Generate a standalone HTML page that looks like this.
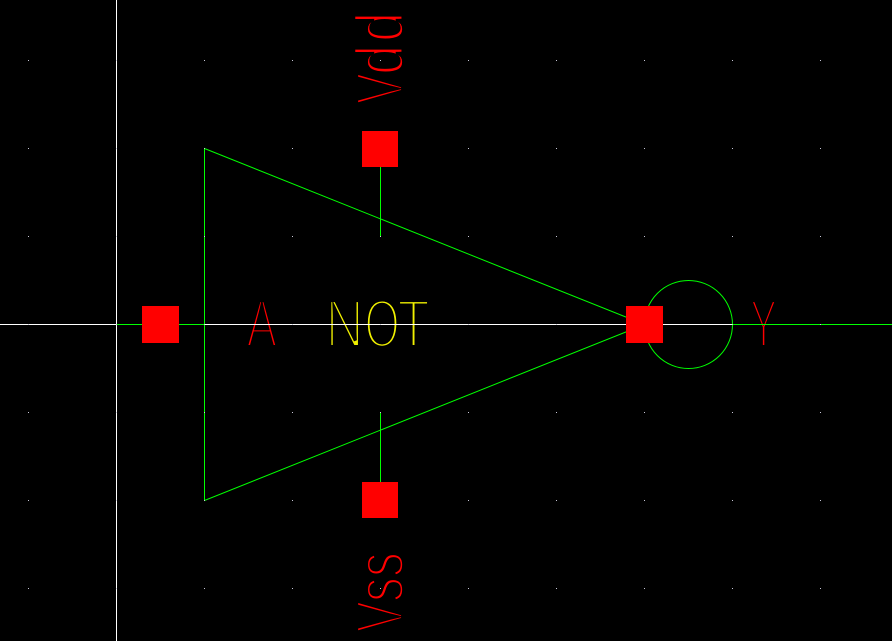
<!DOCTYPE html>
<html>
<head>
<meta charset="utf-8">
<title>NOT gate schematic</title>
<style>
html,body{margin:0;padding:0;background:#000;}
svg{display:block;}
text{font-family:"Liberation Sans",sans-serif;font-size:68px;stroke:#000;stroke-width:3.9px;text-rendering:geometricPrecision;}
text.lc{stroke-width:3.1px;}
.r{fill:#ff0000;}
.y{fill:#f0f000;}
.c{shape-rendering:crispEdges;}
</style>
</head>
<body>
<svg id="canvas" width="892" height="641" viewBox="0 0 892 641" xmlns="http://www.w3.org/2000/svg">
<rect width="892" height="641" fill="#000"/>

<g><text class="r" transform="translate(246.4,347) scale(.68,1)">A</text></g>
<g>
<text class="y" transform="translate(325.5,347) scale(.78,1)">N</text>
<text class="y" transform="translate(364.4,347) scale(.67,1)">O</text>
<text class="y" transform="translate(397.4,347) scale(.78,1)">T</text>
</g>
<g><text class="r" transform="translate(750,347) scale(.6,1)">Y</text></g>
<g>
<text class="r" transform="translate(403,104.5) rotate(-90) scale(.7,1)">V</text>
<text class="r lc" transform="translate(403,75) rotate(-90) scale(.8,1)">d</text>
<text class="r lc" transform="translate(403,42) rotate(-90) scale(.8,1)">d</text>
</g>
<g>
<text class="r" transform="translate(403,632.5) rotate(-90) scale(.7,1)">V</text>
<text class="r lc" transform="translate(403,602) rotate(-90) scale(.73,1)">s</text>
<text class="r lc" transform="translate(403,577) rotate(-90) scale(.73,1)">s</text>
</g>

<g class="c" stroke="#fff" stroke-width="1" fill="none">
<line x1="116.5" y1="0" x2="116.5" y2="641"/>
<line x1="0" y1="324.5" x2="892" y2="324.5"/>
</g>

<g fill="none" stroke="#00ff00" stroke-width="1">
<line class="c" x1="116" y1="324.5" x2="205" y2="324.5"/>
<line class="c" x1="733" y1="324.5" x2="892" y2="324.5"/>
<line class="c" x1="380.5" y1="160" x2="380.5" y2="236"/>
<line class="c" x1="380.5" y1="412" x2="380.5" y2="490"/>
<path d="M204.5 148.5 L644.5 324.5 L204.5 500.5 Z"/>
<circle cx="688.5" cy="324.5" r="44"/>
</g>

<g id="grid-dots"></g>

<g class="c" fill="#ff0000">
<rect x="142" y="306" width="37" height="37"/>
<rect x="626" y="306" width="37" height="37"/>
<rect x="362" y="131" width="36" height="36"/>
<rect x="362" y="482" width="36" height="36"/>
</g>
</svg>
<script>
var gridColumns = [28, 116, 204, 292, 380, 468, 556, 644, 732, 820];
var gridRows = [60, 148, 236, 324, 412, 500, 588];
var host = document.getElementById('grid-dots');
gridColumns.forEach(function (gx) {
  gridRows.forEach(function (gy) {
    var dot = document.createElementNS('http://www.w3.org/2000/svg', 'rect');
    
    
    dot.setAttribute('x', gx);
    dot.setAttribute('y', gy);
    dot.setAttribute('width', 1);
    dot.setAttribute('height', 1);
    dot.setAttribute('fill', '#c8c8d8');
    host.appendChild(dot);
  });
});
</script>
</body>
</html>
